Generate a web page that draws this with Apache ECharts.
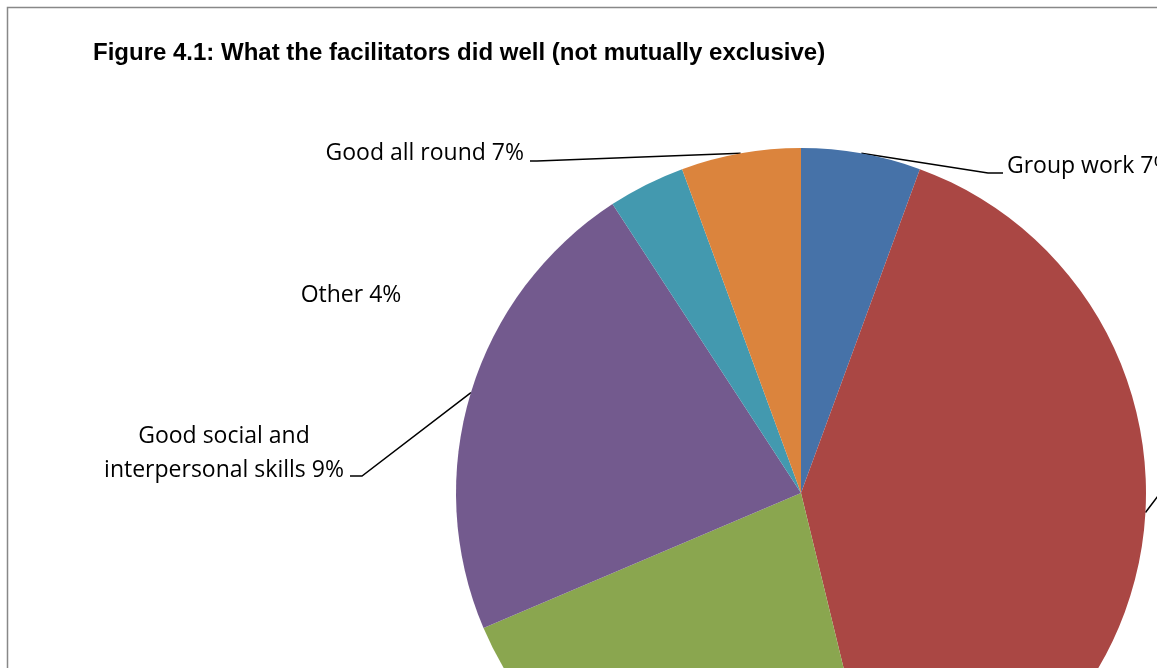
<!DOCTYPE html>
<html>
<head>
<meta charset="utf-8">
<script src="https://cdn.jsdelivr.net/npm/echarts@6/dist/echarts.min.js"></script>
<style>
  html, body { margin: 0; padding: 0; background: #ffffff; }
  #chart { width: 1157px; height: 668px; }
</style>
</head>
<body>
<div id="chart"></div>
<script>
// Slices clockwise from 12 o'clock
const categories = [
  'Group work',
  'Knowledgeable',
  'Well organised',
  'Good social and\ninterpersonal skills',
  'Other',
  'Good all round'
];
// Share of the pie
const sliceValues = [5.6, 40.6, 22.4, 22.2, 3.6, 5.6];
// Percentages printed in the labels
const labelPercents = ['7%', '', '', '9%', '4%', '7%'];
const colors = ['#4672A8', '#AA4744', '#8AA64F', '#735A8E', '#4399AF', '#DB843D'];

const chart = echarts.init(document.getElementById('chart'));

// label anchor placement (layout only)
const labelPlace = [
  { x: 1007, y: 166, align: 'left',   mid: [988, 173], end: [1003, 173] },
  { x: 1200, y: 440, align: 'left',   mid: [1185, 460], end: [1195, 460] },
  { x: 600,  y: 860, align: 'center', mid: [600, 850], end: [600, 850] },
  { x: 224,  y: 453, align: 'center', mid: [362, 476], end: [350, 476] },
  { x: 351,  y: 295, align: 'center', mid: null, end: null },
  { x: 524,  y: 153, align: 'right',  mid: [537, 161], end: [530, 161] }
];

const data = categories.map((c, i) => ({
  name: c,
  value: sliceValues[i],
  itemStyle: { color: colors[i] },
  labelLine: { show: labelPlace[i].mid !== null }
}));

chart.setOption({
  animation: false,
  backgroundColor: '#ffffff',
  title: {
    text: 'Figure 4.1: What the facilitators did well (not mutually exclusive)',
    left: 93,
    top: 41,
    padding: 0,
    textStyle: {
      fontFamily: 'Liberation Sans',
      fontWeight: 'bold',
      fontSize: 24,
      lineHeight: 24,
      color: '#000000'
    }
  },
  graphic: [{
    type: 'rect',
    shape: { x: 7.5, y: 7.5, width: 1300, height: 800 },
    style: { fill: 'none', stroke: '#888888', lineWidth: 1.5 },
    silent: true,
    z: -10
  }],
  series: [{
    type: 'pie',
    center: [801, 493],
    radius: 345,
    startAngle: 90,
    clockwise: true,
    avoidLabelOverlap: false,
    data: data,
    itemStyle: { borderWidth: 0 },
    label: {
      show: true,
      position: 'outside',
      fontFamily: 'Open Sans',
      fontSize: 23,
      lineHeight: 34,
      color: '#000000',
      formatter: (p) => p.name + ' ' + labelPercents[p.dataIndex]
    },
    labelLine: {
      show: true,
      lineStyle: { color: '#000000', width: 1.5 }
    },
    labelLayout: (params) => {
      const lp = labelPlace[params.dataIndex];
      const start = params.labelLinePoints ? params.labelLinePoints[0] : [0, 0];
      const out = { x: lp.x, y: lp.y, align: lp.align, verticalAlign: 'middle' };
      if (lp.mid) {
        out.labelLinePoints = [start, lp.mid, lp.end];
      }
      return out;
    }
  }]
});
</script>
</body>
</html>
